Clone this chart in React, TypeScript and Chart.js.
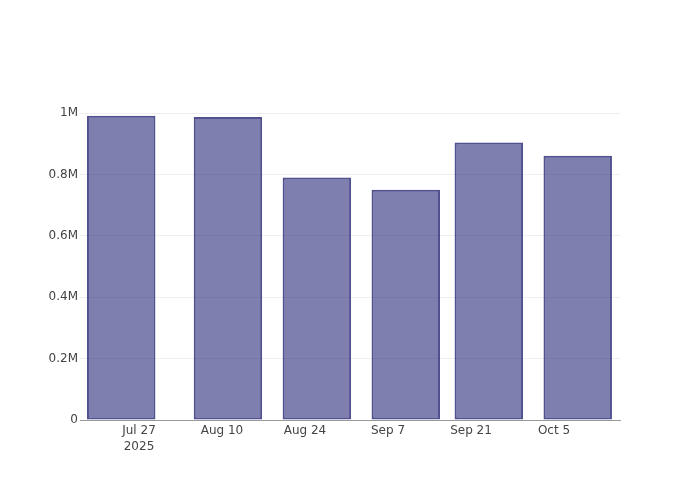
import React, { useEffect, useRef } from "react";
import { Chart, registerables } from "chart.js";
Chart.register(...registerables);

const barDates = ["2025-07-24", "2025-08-11", "2025-08-26", "2025-09-10", "2025-09-24", "2025-10-09"];
const barValues = [992000, 988000, 791000, 751000, 905000, 862000];
const xTickDates = ["2025-07-27", "2025-08-10", "2025-08-24", "2025-09-07", "2025-09-21", "2025-10-05"];
const xTickLabels = [["Jul 27", "2025"], ["Aug 10"], ["Aug 24"], ["Sep 7"], ["Sep 21"], ["Oct 5"]];
const yTickValues = [0, 200000, 400000, 600000, 800000, 1000000];
const yTickLabels = ["0", "0.2M", "0.4M", "0.6M", "0.8M", "1M"];

const dayOf = (s: string) => {
  const [y, m, d] = s.split("-").map(Number);
  return Date.UTC(y, m - 1, d) / 86400000;
};

export default function App() {
  const ref = useRef<HTMLCanvasElement | null>(null);
  useEffect(() => {
    if (!ref.current) return;
    const base = dayOf(xTickDates[0]);
    const points = barDates.map((d, i) => ({ x: dayOf(d), y: barValues[i] }));
    const tickDays = xTickDates.map(dayOf);
    const font = { family: "'DejaVu Sans', sans-serif", size: 12 };
    const chart = new Chart(ref.current, {
      type: "bar",
      data: {
        datasets: [
          {
            data: points as any,
            backgroundColor: "rgba(42,42,122,0.6)",
            borderColor: "rgba(50,50,125,0.85)",
            borderWidth: 2,
            borderSkipped: false,
            barPercentage: 0.825,
            categoryPercentage: 1,
          },
        ],
      },
      options: {
        animation: false,
        responsive: false,
        maintainAspectRatio: false,
        layout: { padding: { left: 0, top: 100, right: 80, bottom: 0 } },
        plugins: { legend: { display: false }, tooltip: { enabled: false } },
        scales: {
          x: {
            type: "linear",
            offset: false,
            min: base - 9.95,
            max: base + 81.13,
            grid: { display: false, drawTicks: false },
            border: { display: true, color: "#999", width: 1 },
            afterBuildTicks: (s: any) => {
              s.ticks = tickDays.map((v) => ({ value: v }));
            },
            afterFit: (s: any) => {
              s.height = 80;
            },
            ticks: {
              autoSkip: false,
              maxRotation: 0,
              padding: 3,
              color: "#444",
              font: { ...font, lineHeight: 1.33 },
              callback: (_v: any, i: number) => xTickLabels[i],
            },
          },
          y: {
            min: 0,
            max: 1043400,
            grid: { color: "#eee", drawTicks: false, lineWidth: 1 },
            border: { display: false },
            afterBuildTicks: (s: any) => {
              s.ticks = yTickValues.map((v) => ({ value: v }));
            },
            afterFit: (s: any) => {
              s.width = 80;
            },
            ticks: {
              padding: 2,
              color: "#444",
              font,
              callback: (_v: any, i: number) => yTickLabels[i],
            },
          },
        },
      },
    });
    return () => chart.destroy();
  }, []);
  return (
    <div style={{ position: "fixed", left: 0, top: 0, width: 700, height: 500, background: "#fff" }}>
      <canvas ref={ref} width={700} height={500} style={{ width: 700, height: 500 }} />
    </div>
  );
}
